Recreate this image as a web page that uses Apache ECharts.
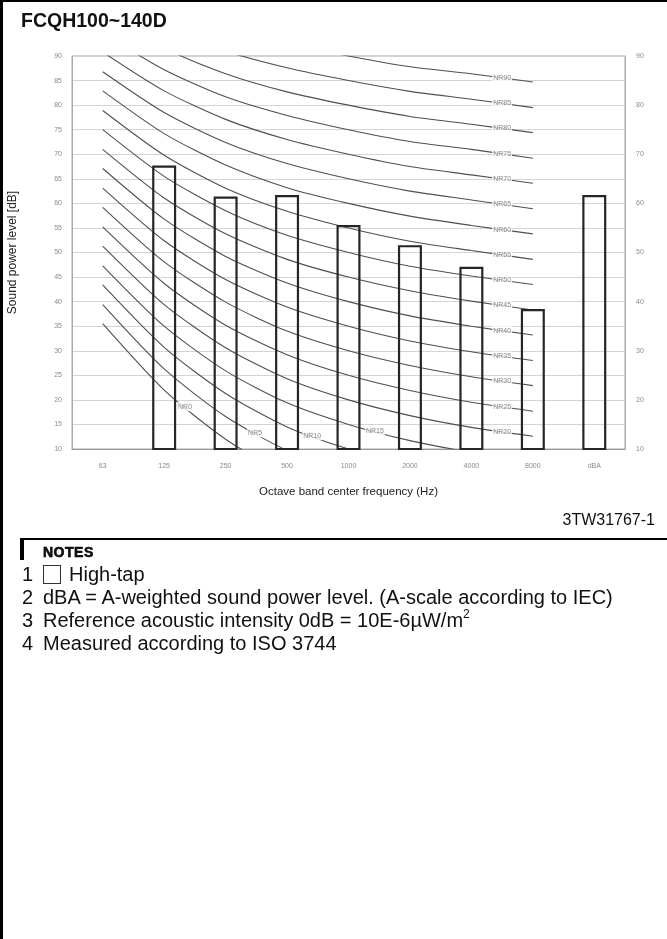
<!DOCTYPE html>
<html>
<head>
<meta charset="utf-8">
<script src="https://cdn.jsdelivr.net/npm/echarts@6/dist/echarts.min.js"></script>
<style>
  html, body { margin: 0; padding: 0; background: #fff; }
  #page { position: relative; width: 667px; height: 939px; overflow: hidden;
          font-family: "Liberation Sans", Arial, sans-serif; color: #111; }
  #chart { position: absolute; left: 0; top: 0; width: 667px; height: 939px; }
  .frame-top { position: absolute; left: 0; top: 0; width: 667px; height: 2px; background: #000; }
  .frame-left { position: absolute; left: 0; top: 0; width: 3px; height: 939px; background: #000; }
  .title { position: absolute; left: 21px; top: 8px; font-weight: bold; font-size: 19.5px; line-height: 24px; }
  .docid { position: absolute; right: 12px; top: 510px; font-size: 16px; line-height: 20px; }
  .rule { position: absolute; left: 20px; top: 538px; width: 647px; height: 1.5px; background: #000; }
  .bar { position: absolute; left: 20px; top: 539px; width: 4px; height: 21px; background: #000; }
  .notes-head { position: absolute; left: 43px; top: 543px; font-weight: bold; font-size: 14px; line-height: 18px;
                letter-spacing: 0.5px; -webkit-text-stroke: 0.6px #000; }
  .note { position: absolute; left: 22px; font-size: 20px; line-height: 22px; white-space: nowrap; }
  .note .num { display: inline-block; width: 21px; }
  .swatch { display: inline-block; width: 16px; height: 17px; border: 1px solid #333; vertical-align: -3px; margin-right: 8px; }
  sup { font-size: 12px; vertical-align: 9px; line-height: 0; }
</style>
</head>
<body>
<div id="page">
  <div id="chart"></div>
  <div class="frame-top"></div>
  <div class="frame-left"></div>
  <div class="title">FCQH100~140D</div>
  <div class="docid">3TW31767-1</div>
  <div class="rule"></div>
  <div class="bar"></div>
  <div class="notes-head">NOTES</div>
  <div class="note" style="top:563px"><span class="num">1</span><span class="swatch"></span>High-tap</div>
  <div class="note" style="top:586px"><span class="num">2</span>dBA = A-weighted sound power level. (A-scale according to IEC)</div>
  <div class="note" style="top:609px"><span class="num">3</span>Reference acoustic intensity 0dB = 10E-6µW/m<sup>2</sup></div>
  <div class="note" style="top:632px"><span class="num">4</span>Measured according to ISO 3744</div>
</div>
<script>
// Octave bands on the x axis (last column is the A-weighted overall level)
const freqBands = ['63', '125', '250', '500', '1000', '2000', '4000', '8000', 'dBA'];

// Sound power level, high-tap [dB]
const highTap = ['-', 67.7, 61.4, 61.7, 55.6, 51.5, 47.1, 38.5, 61.7];

// Noise rating curves: level per octave band 63 Hz ... 8000 Hz [dB]
const nrNames = ['NR0', 'NR5', 'NR10', 'NR15', 'NR20', 'NR25', 'NR30', 'NR35', 'NR40', 'NR45',
                 'NR50', 'NR55', 'NR60', 'NR65', 'NR70', 'NR75', 'NR80', 'NR85', 'NR90'];
const nrLevels = [
  [35.5, 22.0, 12.0, 4.8, 0, -3.5, -6.1, -8.0],
  [39.4, 26.3, 16.6, 9.7, 5, 1.6, -1.0, -2.8],
  [43.4, 30.7, 21.3, 14.5, 10, 6.6, 4.2, 2.3],
  [47.3, 35.0, 25.9, 19.4, 15, 11.7, 9.3, 7.4],
  [51.3, 39.4, 30.6, 24.3, 20, 16.8, 14.4, 12.6],
  [55.2, 43.7, 35.2, 29.2, 25, 21.9, 19.5, 17.7],
  [59.2, 48.1, 39.9, 34.0, 30, 27.0, 24.7, 22.9],
  [63.1, 52.4, 44.5, 38.9, 35, 32.0, 29.8, 28.0],
  [67.1, 56.8, 49.2, 43.8, 40, 37.1, 35.0, 33.2],
  [71.0, 61.1, 53.8, 48.6, 45, 42.2, 40.1, 38.3],
  [75.0, 65.5, 58.5, 53.5, 50, 47.2, 45.2, 43.5],
  [78.9, 69.8, 63.1, 58.4, 55, 52.3, 50.4, 48.6],
  [82.9, 74.2, 67.8, 63.2, 60, 57.4, 55.5, 53.8],
  [86.8, 78.5, 72.4, 68.1, 65, 62.5, 60.7, 58.9],
  [90.8, 82.9, 77.1, 73.0, 70, 67.5, 65.8, 64.1],
  [94.7, 87.2, 81.7, 77.9, 75, 72.6, 71.0, 69.2],
  [98.7, 91.6, 86.4, 82.7, 80, 77.7, 76.1, 74.4],
  [102.6, 95.9, 91.0, 87.6, 85, 82.8, 81.2, 79.5],
  [106.6, 100.3, 95.7, 92.5, 90, 87.8, 86.4, 84.7]
];

// Where along each curve its name is written (band index, fractional)
const nrLabelAt = [1.34, 2.48, 3.41, 4.43, 6.5, 6.5, 6.5, 6.5, 6.5, 6.5,
                   6.5, 6.5, 6.5, 6.5, 6.5, 6.5, 6.5, 6.5, 6.5];

const yMin = 10, yMax = 90;

function levelAt(levels, pos) {
  const i = Math.min(Math.floor(pos), levels.length - 2);
  const f = pos - i;
  return levels[i] + (levels[i + 1] - levels[i]) * f;
}

const curveSeries = nrLevels.map((lv, k) => ({
  name: nrNames[k],
  type: 'line',
  xAxisIndex: 1,
  yAxisIndex: 0,
  data: lv.map((v, i) => [i, v]),
  smooth: 0.25,
  showSymbol: false,
  silent: true,
  clip: true,
  z: 2,
  lineStyle: { color: '#4f4f4f', width: 1.1 }
}));

const labelSeries = {
  type: 'scatter',
  xAxisIndex: 1,
  yAxisIndex: 0,
  symbolSize: 0,
  silent: true,
  z: 6,
  data: nrNames.map((n, k) => ({ name: n, value: [nrLabelAt[k], levelAt(nrLevels[k], nrLabelAt[k])] })),
  label: {
    show: true, position: 'inside', formatter: '{b}',
    fontSize: 7, color: '#6a6a6a', backgroundColor: '#fff', padding: [1, 1],
    fontFamily: 'Liberation Sans'
  }
};

const barSeries = {
  name: 'High-tap',
  type: 'bar',
  xAxisIndex: 0,
  yAxisIndex: 0,
  data: highTap,
  barWidth: 24,
  z: 4,
  itemStyle: { color: 'rgba(255,255,255,0)', borderColor: '#262626', borderWidth: 2.2 }
};

const chart = echarts.init(document.getElementById('chart'), null, { renderer: 'canvas' });
chart.setOption({
  animation: false,
  grid: { left: 72, right: 42, top: 56, bottom: 490, show: true, borderColor: '#aaa', borderWidth: 1,
          outerBoundsMode: 'none', containLabel: false },
  xAxis: [
    {
      type: 'category', data: freqBands, position: 'bottom',
      name: 'Octave band center frequency (Hz)', nameLocation: 'middle', nameGap: 37,
      nameTextStyle: { fontSize: 11.5, color: '#222', fontFamily: 'Liberation Sans' },
      axisLine: { lineStyle: { color: '#999' } },
      axisTick: { show: false },
      axisLabel: { fontSize: 7, color: '#8a8a8a', margin: 14, fontFamily: 'Liberation Sans' }
    },
    { type: 'value', min: -0.5, max: 8.5, show: false }
  ],
  yAxis: [
    {
      type: 'value', min: yMin, max: yMax, interval: 5, position: 'left',
      name: 'Sound power level [dB]', nameLocation: 'middle', nameGap: 53, nameRotate: 90,
      nameTextStyle: { fontSize: 12, color: '#222', fontFamily: 'Liberation Sans' },
      axisLine: { show: true, onZero: false, lineStyle: { color: '#aaa' } },
      axisTick: { show: false },
      axisLabel: { fontSize: 7, color: '#8a8a8a', margin: 10, fontFamily: 'Liberation Sans' },
      splitLine: { show: true, lineStyle: { color: '#d4d4d4', width: 1 } }
    },
    {
      type: 'value', min: yMin, max: yMax, interval: 10, position: 'right',
      axisLine: { show: true, onZero: false, lineStyle: { color: '#aaa' } },
      axisTick: { show: false },
      axisLabel: { fontSize: 7, color: '#8a8a8a', margin: 11, fontFamily: 'Liberation Sans' },
      splitLine: { show: false }
    }
  ],
  series: [...curveSeries, barSeries, labelSeries]
});
</script>
</body>
</html>
